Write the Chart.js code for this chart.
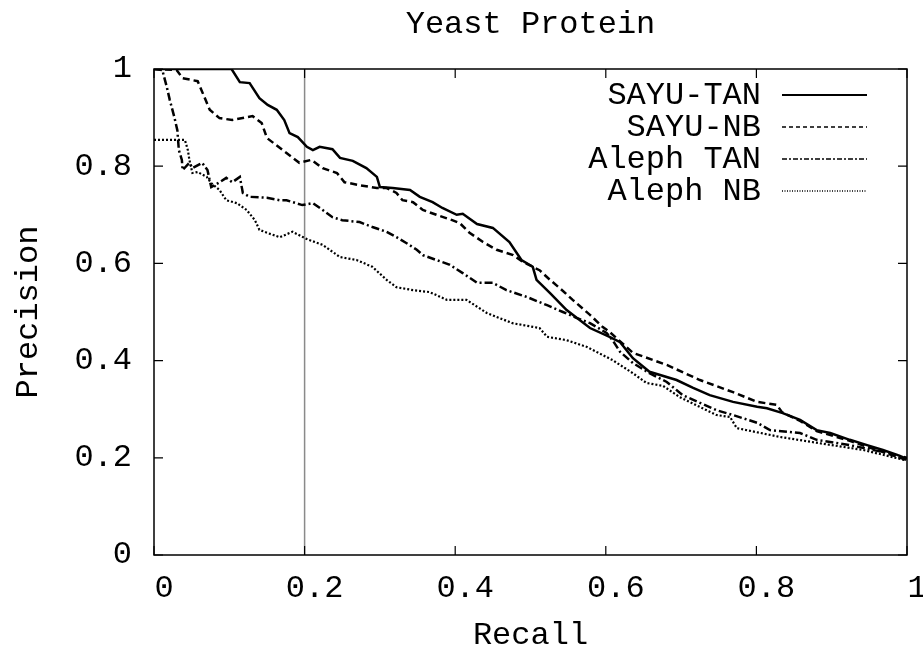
<!DOCTYPE html>
<html>
<head>
<meta charset="utf-8">
<script src="https://cdn.jsdelivr.net/npm/chart.js@4.4.1/dist/chart.umd.min.js"></script>
<style>
  html, body { margin: 0; padding: 0; background: #fff; }
  #c { display: block; }
</style>
</head>
<body>
<canvas id="c" width="923" height="649"></canvas>
<script>
// ---- data (recall, precision) ----
const sayuTan = [
  [0,1],[0.103,1],[0.114,0.973],[0.127,0.971],[0.140,0.940],[0.151,0.926],[0.163,0.916],
  [0.173,0.895],[0.180,0.868],[0.191,0.860],[0.203,0.840],[0.211,0.833],[0.220,0.840],
  [0.237,0.835],[0.247,0.817],[0.264,0.811],[0.282,0.796],[0.296,0.778],[0.300,0.757],
  [0.317,0.755],[0.340,0.751],[0.353,0.737],[0.370,0.726],[0.383,0.714],[0.402,0.700],
  [0.410,0.702],[0.429,0.681],[0.450,0.673],[0.472,0.644],[0.488,0.607],[0.503,0.593],
  [0.508,0.566],[0.526,0.539],[0.548,0.504],[0.579,0.467],[0.605,0.449],[0.619,0.438],
  [0.636,0.405],[0.658,0.377],[0.694,0.360],[0.716,0.344],[0.738,0.329],[0.769,0.315],
  [0.801,0.305],[0.814,0.302],[0.835,0.292],[0.858,0.278],[0.880,0.257],[0.898,0.251],
  [0.924,0.237],[0.947,0.226],[0.968,0.216],[0.987,0.206],[1.0,0.198]
];
const sayuNb = [
  [0,1],[0.030,0.998],[0.038,0.981],[0.058,0.975],[0.067,0.942],[0.074,0.916],[0.087,0.899],
  [0.104,0.895],[0.131,0.903],[0.143,0.889],[0.150,0.858],[0.171,0.833],[0.193,0.807],
  [0.209,0.813],[0.224,0.796],[0.243,0.786],[0.253,0.767],[0.273,0.761],[0.296,0.755],
  [0.309,0.755],[0.322,0.745],[0.330,0.730],[0.344,0.726],[0.357,0.710],[0.375,0.700],
  [0.396,0.689],[0.406,0.683],[0.419,0.663],[0.437,0.644],[0.455,0.628],[0.477,0.617],
  [0.490,0.603],[0.512,0.586],[0.526,0.566],[0.539,0.549],[0.556,0.525],[0.579,0.494],
  [0.596,0.469],[0.605,0.459],[0.636,0.416],[0.681,0.391],[0.725,0.360],[0.769,0.335],
  [0.801,0.315],[0.827,0.309],[0.834,0.294],[0.858,0.276],[0.880,0.255],[0.924,0.235],
  [0.968,0.212],[1.0,0.195]
];
const alephTan = [
  [0,1],[0.011,0.998],[0.017,0.963],[0.021,0.936],[0.027,0.901],[0.031,0.874],[0.033,0.833],
  [0.037,0.813],[0.038,0.792],[0.047,0.807],[0.051,0.796],[0.064,0.807],[0.071,0.792],
  [0.076,0.757],[0.087,0.767],[0.096,0.776],[0.104,0.767],[0.114,0.778],[0.118,0.745],
  [0.127,0.737],[0.150,0.735],[0.167,0.730],[0.176,0.730],[0.197,0.720],[0.211,0.724],
  [0.224,0.710],[0.237,0.695],[0.250,0.689],[0.273,0.685],[0.290,0.675],[0.309,0.665],
  [0.322,0.654],[0.335,0.642],[0.349,0.628],[0.357,0.617],[0.393,0.597],[0.410,0.580],
  [0.429,0.560],[0.450,0.560],[0.468,0.545],[0.495,0.531],[0.522,0.514],[0.543,0.500],
  [0.561,0.488],[0.579,0.477],[0.601,0.457],[0.609,0.442],[0.619,0.418],[0.636,0.395],
  [0.658,0.374],[0.681,0.356],[0.702,0.329],[0.725,0.313],[0.747,0.298],[0.769,0.288],
  [0.801,0.272],[0.818,0.257],[0.858,0.251],[0.880,0.237],[0.924,0.226],[0.968,0.212],
  [1.0,0.200]
];
const alephNb = [
  [0,0.854],[0.041,0.854],[0.045,0.833],[0.047,0.813],[0.051,0.786],[0.058,0.788],
  [0.070,0.778],[0.076,0.765],[0.087,0.751],[0.096,0.730],[0.110,0.724],[0.123,0.710],
  [0.134,0.689],[0.140,0.669],[0.150,0.663],[0.167,0.654],[0.184,0.665],[0.203,0.650],
  [0.224,0.638],[0.247,0.613],[0.269,0.607],[0.290,0.593],[0.309,0.566],[0.322,0.551],
  [0.344,0.545],[0.366,0.541],[0.389,0.525],[0.415,0.525],[0.442,0.498],[0.476,0.477],
  [0.512,0.467],[0.522,0.449],[0.548,0.442],[0.575,0.428],[0.609,0.401],[0.636,0.374],
  [0.654,0.354],[0.676,0.348],[0.698,0.325],[0.747,0.288],[0.765,0.284],[0.774,0.261],
  [0.831,0.243],[0.884,0.230],[0.942,0.216],[0.998,0.195]
];
const markerLine = [[0.2,0],[0.2,1]];
const seriesLabels = ['SAYU-TAN','SAYU-NB','Aleph TAN','Aleph NB'];
const tickValues = [0,0.2,0.4,0.6,0.8,1];
const xTickLabels = ['0','0.2','0.4','0.6','0.8','1'];
const yTickLabels = ['0','0.2','0.4','0.6','0.8','1'];

const FONT = "'Liberation Mono', 'Courier New', monospace";
const toXY = a => a.map(p => ({x:p[0], y:p[1]}));

const styles = [
  {w:2.5, dash:[], lw:2.2, ldash:[]},
  {w:2.5, dash:[7,4], lw:1.6, ldash:[4,3]},
  {w:2.5, dash:[8,3,2,3], lw:1.6, ldash:[5,2,2,2]},
  {w:2.2, dash:[2,2], lw:1.4, ldash:[1,1.5]}
];
const seriesData = [sayuTan, sayuNb, alephTan, alephNb];

const datasets = seriesData.map((d,i) => ({
  label: seriesLabels[i],
  data: toXY(d),
  borderColor: '#000',
  borderWidth: styles[i].w,
  borderDash: styles[i].dash,
  pointRadius: 0,
  tension: 0,
  fill: false,
  order: i
}));
datasets.push({
  label: 'marker',
  data: toXY(markerLine),
  borderColor: '#8a8a8a',
  borderWidth: 1.5,
  pointRadius: 0,
  fill: false,
  order: 10
});

const framePlugin = {
  id: 'frame',
  afterDatasetsDraw(chart) {
    const {ctx, chartArea: a, scales: {x, y}} = chart;
    ctx.save();
    ctx.strokeStyle = '#000';
    ctx.lineWidth = 1.5;
    ctx.setLineDash([]);
    ctx.strokeRect(a.left, a.top, a.right - a.left, a.bottom - a.top);
    const L = 9;
    ctx.lineWidth = 1.2;
    ctx.beginPath();
    tickValues.forEach(v => {
      const px = x.getPixelForValue(v);
      ctx.moveTo(px, a.bottom); ctx.lineTo(px, a.bottom - L);
      ctx.moveTo(px, a.top); ctx.lineTo(px, a.top + L);
      const py = y.getPixelForValue(v);
      ctx.moveTo(a.left, py); ctx.lineTo(a.left + L, py);
      ctx.moveTo(a.right, py); ctx.lineTo(a.right - L, py);
    });
    ctx.stroke();
    ctx.restore();
  },
  afterDraw(chart) {
    const {ctx} = chart;
    ctx.save();
    ctx.font = '32px ' + FONT;
    ctx.fillStyle = '#000';
    ctx.textAlign = 'right';
    ctx.textBaseline = 'middle';
    const rows = [95, 127, 159, 191];
    seriesLabels.forEach((t, i) => {
      ctx.fillText(t, 761, rows[i] + 1);
      ctx.beginPath();
      ctx.strokeStyle = '#000';
      ctx.lineWidth = styles[i].lw;
      ctx.setLineDash(styles[i].ldash);
      ctx.moveTo(782, rows[i]);
      ctx.lineTo(867, rows[i]);
      ctx.stroke();
    });
    ctx.restore();
  }
};

Chart.defaults.color = '#000';
Chart.defaults.font.family = FONT;

new Chart(document.getElementById('c'), {
  type: 'line',
  data: { datasets },
  plugins: [framePlugin],
  options: {
    responsive: false,
    animation: false,
    devicePixelRatio: 1,
    layout: { padding: { left: 0, right: 16, top: 0, bottom: 0 } },
    plugins: {
      legend: { display: false },
      tooltip: { enabled: false },
      title: {
        display: true,
        text: 'Yeast Protein',
        fullSize: false,
        font: { size: 32, weight: 'normal', family: FONT },
        color: '#000',
        padding: { top: 5, bottom: 25.6 }
      }
    },
    scales: {
      x: {
        type: 'linear',
        min: 0, max: 1,
        afterBuildTicks: s => { s.ticks = tickValues.map(v => ({value: v})); },
        afterFit: s => { s.height = 94; s.paddingRight = 0; s.paddingLeft = 0; },
        grid: { display: false, drawTicks: false },
        border: { display: false },
        ticks: {
          font: { size: 32, family: FONT },
          color: '#000',
          padding: 14,
          labelOffset: 10,
          maxRotation: 0,
          autoSkip: false,
          callback: (v, i) => xTickLabels[i]
        },
        title: {
          display: true,
          text: 'Recall',
          font: { size: 32, family: FONT, lineHeight: 0.85 },
          color: '#000',
          padding: { top: 0, bottom: 0 }
        }
      },
      y: {
        type: 'linear',
        min: 0, max: 1,
        afterBuildTicks: s => { s.ticks = tickValues.map(v => ({value: v})); },
        afterFit: s => { s.width = 154; s.paddingTop = 0; s.paddingBottom = 0; },
        grid: { display: false, drawTicks: false },
        border: { display: false },
        ticks: {
          font: { size: 32, family: FONT },
          color: '#000',
          padding: 22,
          autoSkip: false,
          callback: (v, i) => yTickLabels[i]
        },
        title: {
          display: true,
          text: 'Precision',
          font: { size: 32, family: FONT },
          color: '#000',
          padding: { top: 9, bottom: 0 }
        }
      }
    }
  }
});
</script>
</body>
</html>
